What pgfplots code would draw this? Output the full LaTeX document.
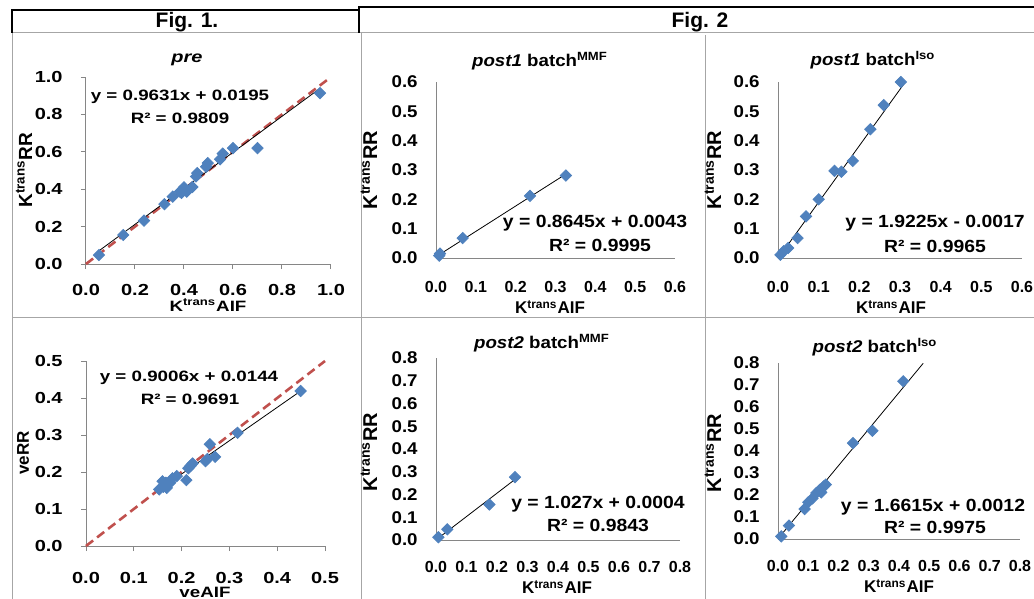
\documentclass[border=0pt]{standalone}
\usepackage{fontspec}
\setmainfont{Liberation Sans}
\newfontfamily\wide[FakeStretch=1.25]{Liberation Sans}
\newfontfamily\wideb[FakeStretch=1.1]{Liberation Sans}
\usepackage{pgfplots}
\pgfplotsset{compat=1.18}
\definecolor{xlblue}{HTML}{4F81BD}
\definecolor{xlred}{HTML}{C0504D}
\definecolor{axgray}{HTML}{868686}
\definecolor{tabgray}{HTML}{A6A6A6}

\pgfplotsset{
  xl/.style={scale only axis, axis lines=left, axis line style={axgray,line width=0.5pt,-},
    anchor=south west, xmin=0, ymin=0, clip=false,
    tick style={axgray,line width=0.5pt},
    /pgf/number format/fixed, /pgf/number format/fixed zerofill,
    /pgf/number format/precision=1, /pgf/number format/assume math mode=true,
    yticklabel style={anchor=east,inner sep=0pt,xshift=-9pt}},
  figone/.style={xl, tick align=outside, major tick length=2.5pt,
    tick label style={font=\wide\bfseries\fontsize{8}{9}\selectfont},
    xticklabel style={anchor=center,inner sep=0pt}},
  figtwo/.style={xl, major tick length=0pt,
    xticklabel style={font=\bfseries\fontsize{8}{9}\selectfont,anchor=center,inner sep=0pt,yshift=-14.5pt},
    yticklabel style={font=\wideb\bfseries\fontsize{8.5}{9}\selectfont}},
  pts/.style={only marks, mark=square*, mark size=2pt, mark options={rotate=45,fill=xlblue,draw=xlblue}},
  fit/.style={black, line width=0.4pt, no marks},
  ident/.style={xlred, line width=1.3pt, dash pattern=on 4.5pt off 2.5pt, no marks}
}

\begin{document}
\begin{tikzpicture}
\useasboundingbox (0,0) rectangle (517pt,-299.5pt);

% table rules
\begin{scope}[x=0.5pt,y=-0.5pt]
\draw[tabgray,line width=0.5pt] (12,33)--(1034,33) (12,317)--(1034,317)
  (12,33)--(12,599) (361,33)--(361,599) (705,35)--(705,599);
\draw[black,line width=1pt] (12,33)--(12,10)--(359,10) (359,33)--(359,7)--(1034,7);
\node[font=\bfseries\fontsize{10.5}{12}\selectfont] at (187,22) {Fig. 1.};
\node[font=\bfseries\fontsize{10.5}{12}\selectfont] at (700,22) {Fig. 2};

% Fig 1 texts
\tikzset{eqa/.style={font=\wide\bfseries\fontsize{7.5}{8}\selectfont},
  laba/.style={font=\bfseries\fontsize{9.5}{10}\selectfont,rotate=90}}
\node[font=\wide\bfseries\itshape\fontsize{8}{9}\selectfont] at (187,60) {pre};
\node[eqa] at (180,97) {y = 0.9631x + 0.0195};
\node[eqa] at (180,118) {R² = 0.9809};
\node[font=\wide\bfseries\fontsize{7.5}{9}\selectfont] at (208,305) {K\textsuperscript{trans}AIF};
\node[laba] at (24,170) {K\textsuperscript{trans}RR};

\node[eqa] at (189,378) {y = 0.9006x + 0.0144};
\node[eqa] at (190,399) {R² = 0.9691};
\node[font=\wide\bfseries\fontsize{7.5}{9}\selectfont] at (205,592) {veAIF};
\node[font=\bfseries\fontsize{8.5}{9}\selectfont,rotate=90] at (23,453) {veRR};

% Fig 2 texts
\tikzset{ttl/.style={font=\wideb\bfseries\fontsize{8.5}{9}\selectfont},
  eq/.style={font=\wideb\bfseries\fontsize{8.8}{9}\selectfont},
  lab/.style={font=\bfseries\fontsize{8.5}{9}\selectfont},
  labr/.style={font=\bfseries\fontsize{10}{10}\selectfont,rotate=90}}
\node[ttl] at (540,61) {\textit{post1} batch\textsuperscript{MMF}};
\node[eq] at (595,223) {y = 0.8645x + 0.0043};
\node[eq] at (600,245) {R² = 0.9995};
\node[labr] at (369,170) {K\textsuperscript{trans}RR};
\node[lab] at (550,307) {K\textsuperscript{trans}AIF};

\node[ttl] at (873,60) {\textit{post1} batch\textsuperscript{Iso}};
\node[eq] at (935,223) {y = 1.9225x - 0.0017};
\node[eq] at (935,246) {R² = 0.9965};
\node[labr] at (713,170) {K\textsuperscript{trans}RR};
\node[lab] at (891,307) {K\textsuperscript{trans}AIF};

\node[ttl] at (542,343) {\textit{post2} batch\textsuperscript{MMF}};
\node[eq] at (598,504) {y = 1.027x + 0.0004};
\node[eq] at (598,525) {R² = 0.9843};
\node[labr] at (369,452) {K\textsuperscript{trans}RR};
\node[lab] at (557,587) {K\textsuperscript{trans}AIF};

\node[ttl] at (875,347) {\textit{post2} batch\textsuperscript{Iso}};
\node[eq] at (933,507) {y = 1.6615x + 0.0012};
\node[eq] at (935,527) {R² = 0.9975};
\node[labr] at (713,453) {K\textsuperscript{trans}RR};
\node[lab] at (899,586) {K\textsuperscript{trans}AIF};
\end{scope}

% pre
\begin{axis}[figone, at={(43pt,-132pt)}, width=122.5pt, height=93.5pt,
  xmax=1, ymax=1, xtick={0,0.2,...,1}, ytick={0,0.2,...,1},
  xticklabel style={yshift=-10.5pt}]
\addplot[ident] coordinates {(0,0) (0.99,0.99)};
\addplot[fit] coordinates {(0.053,0.0705) (0.955,0.939)};
\addplot[pts] coordinates {
(0.053,0.048) (0.152,0.155) (0.237,0.232) (0.32,0.32) (0.354,0.36)
(0.384,0.387) (0.395,0.39) (0.40,0.41) (0.39,0.38) (0.411,0.387)
(0.434,0.412) (0.449,0.468) (0.454,0.486) (0.49,0.52) (0.497,0.54)
(0.547,0.56) (0.558,0.59) (0.60,0.62) (0.70,0.62) (0.955,0.914)};
\end{axis}

% ve
\begin{axis}[figone, at={(43pt,-273pt)}, width=119.5pt, height=92.5pt,
  xmax=0.5, ymax=0.5, xtick={0,0.1,...,0.5}, ytick={0,0.1,...,0.5},
  xticklabel style={yshift=-13.5pt}]
\addplot[ident] coordinates {(0,0) (0.5,0.5)};
\addplot[fit] coordinates {(0.153,0.1522) (0.449,0.4188)};
\addplot[pts] coordinates {
(0.153,0.153) (0.160,0.175) (0.162,0.16) (0.169,0.157) (0.167,0.171)
(0.176,0.171) (0.181,0.183) (0.19,0.189) (0.21,0.178) (0.214,0.21)
(0.219,0.217) (0.223,0.223) (0.25,0.229) (0.254,0.235) (0.259,0.275)
(0.27,0.241) (0.317,0.306) (0.449,0.419)};
\end{axis}

% post1 MMF
\begin{axis}[figtwo, at={(218pt,-129pt)}, width=119.5pt, height=88pt,
  xmax=0.6, ymax=0.6, xtick={0,0.1,...,0.6}, ytick={0,0.1,...,0.6}]
\addplot[fit] coordinates {(0.008,0.0112) (0.326,0.2861)};
\addplot[pts] coordinates {(0.010,0.015) (0.008,0.008) (0.067,0.068) (0.236,0.212) (0.326,0.281)};
\end{axis}

% post1 Iso
\begin{axis}[figtwo, at={(389pt,-129pt)}, width=122pt, height=88pt,
  xmax=0.6, ymax=0.6, xtick={0,0.1,...,0.6}, ytick={0,0.1,...,0.6}]
\addplot[fit] coordinates {(0.006,0.0098) (0.312,0.598)};
\addplot[pts] coordinates {
(0.006,0.011) (0.014,0.023) (0.025,0.034) (0.048,0.068) (0.069,0.142)
(0.10,0.20) (0.139,0.297) (0.156,0.294) (0.184,0.331) (0.227,0.439)
(0.26,0.521) (0.302,0.600)};
\end{axis}

% post2 MMF
\begin{axis}[figtwo, at={(218pt,-270pt)}, width=122pt, height=91pt,
  xmax=0.8, ymax=0.8, xtick={0,0.1,...,0.8}, ytick={0,0.1,...,0.8},
  xticklabel style={yshift=1pt}]
\addplot[fit] coordinates {(0.008,0.0086) (0.259,0.2664)};
\addplot[pts] coordinates {(0.008,0.012) (0.037,0.047) (0.175,0.156) (0.259,0.276)};
\end{axis}

% post2 Iso
\begin{axis}[figtwo, at={(389pt,-269.5pt)}, width=121pt, height=88pt,
  xmax=0.8, ymax=0.8, xtick={0,0.1,...,0.8}, ytick={0,0.1,...,0.8},
  xticklabel style={yshift=1pt}]
\addplot[fit] coordinates {(0.011,0.0195) (0.48,0.7987)};
\addplot[pts] coordinates {
(0.011,0.012) (0.036,0.061) (0.088,0.136) (0.10,0.167) (0.114,0.185)
(0.127,0.209) (0.138,0.224) (0.143,0.212) (0.151,0.239) (0.158,0.247)
(0.248,0.436) (0.312,0.492) (0.414,0.717)};
\end{axis}
\end{tikzpicture}
\end{document}
